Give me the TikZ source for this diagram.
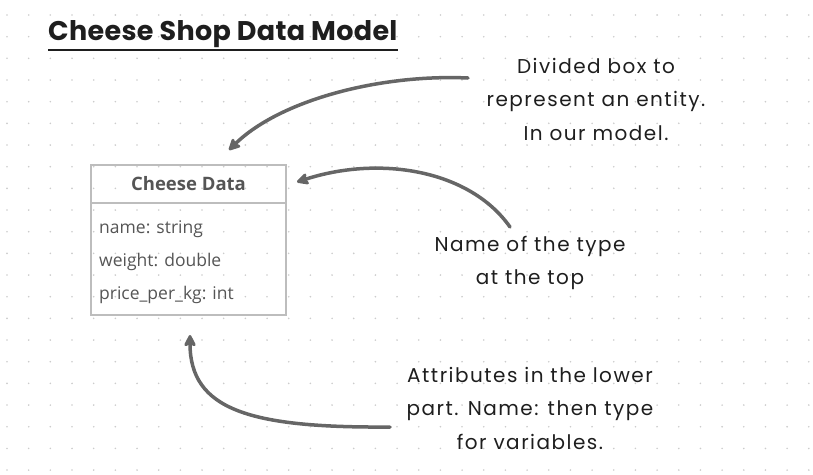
\documentclass[tikz,border=0pt]{standalone}
\usepackage{fontspec}
\setmainfont{Open Sans}
\newfontfamily\handfont[LetterSpace=7.5]{Poppins}
\newfontfamily\titlefont[LetterSpace=1.2]{Poppins}
\usepackage{xcolor}
\usetikzlibrary{arrows.meta, positioning}

\definecolor{boxline}{HTML}{BDBDBD}
\definecolor{boxtext}{HTML}{555555}
\definecolor{pointer}{HTML}{666666}
\definecolor{ink}{HTML}{1E1E1E}

\begin{document}
\begin{tikzpicture}[
    x=1pt, y=-1pt,
    griddot/.style={fill=black!20},
    heading/.style={font=\titlefont\bfseries\fontsize{27}{30}\selectfont, text=ink, inner sep=0pt, anchor=base west},
    header/.style={draw=boxline, line width=2pt, minimum width=195pt, minimum height=38pt, inner sep=0pt, outer sep=0pt, font=\bfseries\fontsize{18.5}{20}\selectfont, text=boxtext},
    body/.style={draw=boxline, line width=2pt, minimum width=195pt, minimum height=112pt, inner sep=0pt, outer sep=0pt},
    attr/.style={font=\fontsize{17.5}{20}\selectfont, text=boxtext, inner sep=0pt, anchor=base west},
    note/.style={font=\handfont\fontsize{20}{33.5}\selectfont, text=ink, align=center, inner sep=0pt},
    arrow/.style={line width=3.5pt, draw=pointer, line cap=round, -{Stealth[length=14pt, width=14pt, inset=3pt, round]}}
]
\useasboundingbox (0,0) rectangle (813,474);

% dotted paper
\foreach \i in {0,...,37}
  \foreach \j in {0,...,21}
    \fill[griddot] (7+21.67*\i, 15+21.67*\j) circle (0.9pt);

% Title
\node[heading] (title) at (48,40) {Cheese Shop Data Model};
\draw[line width=2pt, draw=ink] ([yshift=-10pt]title.base west) -- ([yshift=-10pt]title.base east);

% Entity box
\node[header] (head) at (188.5,184) {Cheese Data};
\node[body, below=0pt of head] (attrs) {};
\node[attr] (name) at (99,233) {name: string};
\node[attr] (weight) at (99,266) {weight: double};
\node[attr] (price) at (99,299) {price\_per\_kg: int};

% Notes
\node[note] (entity) at (596,99) {Divided box to\\represent an entity.\\In our model.};
\node[note] (typename) at (530,263) {Name of the type\\at the top};
\node[note] (fields) at (530,408) {Attributes in the lower\\part. Name: then type\\for variables.};

% Pointers
\coordinate (from1) at (468,78);
\coordinate (from2) at (510,227);
\coordinate (from3) at (390,427);
\draw[arrow] (from1) .. controls (380,74) and (280,100) .. ([xshift=40.5pt, yshift=15pt]head.north);
\draw[arrow] (from2) .. controls (470,170) and (380,155) .. ([xshift=11pt, yshift=2pt]head.east);
\draw[arrow] (from3) .. controls (250,428) and (190,410) .. ([xshift=1.5pt, yshift=-20pt]attrs.south);

\end{tikzpicture}
\end{document}
